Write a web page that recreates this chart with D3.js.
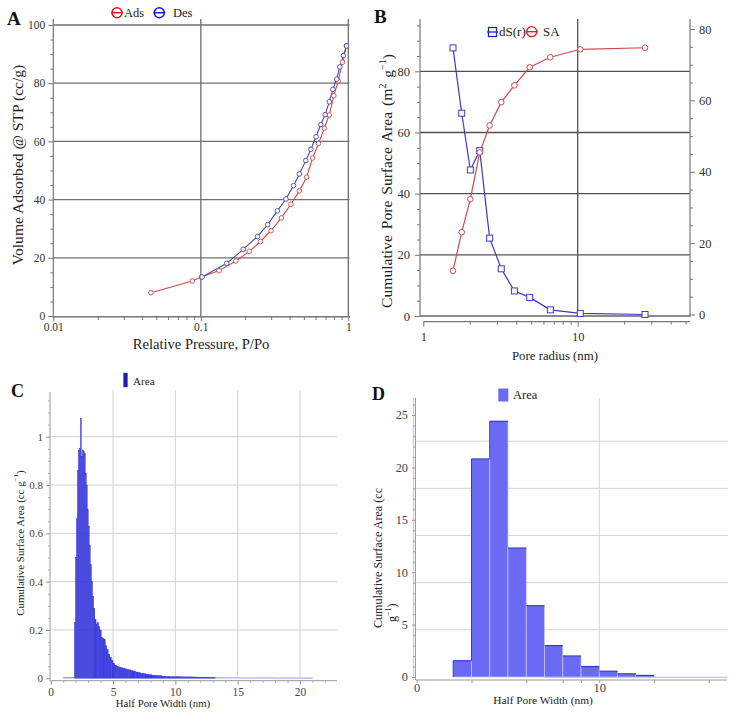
<!DOCTYPE html>
<html><head><meta charset="utf-8">
<script src="https://cdn.jsdelivr.net/npm/d3@7"></script>
<style>body{margin:0;background:#fff}svg{display:block;background:#fff}</style>
</head><body><svg id="c" width="739" height="713"></svg>
<script>
// ---------- Panel A data ----------
const adsP = [0.0459,0.0875,0.101,0.133,0.173,0.213,0.254,0.299,0.352,0.408,0.466,0.522,0.573,0.628,0.688,0.743,0.798,0.855,0.913,0.972];
const adsV = [8.0,12.0,13.4,15.6,18.9,22.2,25.6,29.3,33.7,38.4,43.0,47.7,54.3,59.3,64.5,69.1,75.7,80.8,87.2,92.8];
const desP = [0.972,0.925,0.876,0.834,0.786,0.743,0.697,0.651,0.604,0.558,0.515,0.466,0.425,0.378,0.330,0.284,0.242,0.194,0.150,0.102];
const desV = [92.8,89.5,85.6,81.4,77.9,73.6,69.2,65.8,61.6,57.3,53.4,48.8,44.8,40.2,36.1,31.4,27.3,22.9,18.1,13.4];
const aTicksX = [0.01,0.1,1];
const aMinorX = [0.02,0.03,0.04,0.05,0.06,0.07,0.08,0.09,0.2,0.3,0.4,0.5,0.6,0.7,0.8,0.9];
const aTicksY = [0,20,40,60,80,100];
const aMinorY = [5,10,15,25,30,35,45,50,55,65,70,75,85,90,95];
const aGridY = [20,40,60,80,100];
const aGridX = [0.1,1];

// ---------- Panel B data ----------
const bRadius = [1.557,1.774,2.017,2.32,2.69,3.20,3.89,4.89,6.65,10.4,27.3];
const bSA = [14.8,27.4,38.2,53.5,62.3,69.9,75.4,81.3,84.6,87.2,87.7];   // left axis
const bdS = [74.7,56.4,40.5,45.9,21.4,12.8,6.6,4.8,1.3,0.3,0.0];        // right axis
const bTicksL = [0,20,40,60,80];
const bMinorL = [5,10,15,25,30,35,45,50,55,65,70,75,85,90,95];
const bTicksR = [0,20,40,60,80];
const bMinorR = [5,10,15,25,30,35,45,50,55,65,70,75];
const bTicksX = [1,10];
const bMinorX = [2,3,4,5,6,7,8,9,20,30,40,50];
const bGridY = [20,40,60,80];

// ---------- Panel C data ----------
const cEdges = [1.90,1.98,2.06,2.14,2.22,2.30,2.38,2.46,2.54,2.62,2.70,2.78,2.86,2.94,3.02,3.10,3.18,3.27,3.36,3.45,3.54,3.64,3.74,3.84,3.94,4.05,4.16,4.27,4.38,4.50,4.62,4.74,4.87,5.00,5.14,5.28,5.43,5.58,5.74,5.90,6.07,6.24,6.42,6.60,6.80,7.00,7.20,7.42,7.64,7.88,8.12,8.38,8.64,8.92,9.20,9.50,9.82,10.15,10.5,10.9,11.3,11.7,12.2,12.7,13.2,13.8,14.4,15.0,15.7,16.4,17.1,17.9,18.7,19.6,20.5,21.0];
const cArea = [0.23,0.50,0.66,0.86,0.945,0.95,1.076,0.92,0.945,0.94,0.93,0.85,0.80,0.70,0.63,0.55,0.47,0.40,0.34,0.29,0.245,0.225,0.23,0.215,0.20,0.17,0.165,0.16,0.135,0.12,0.10,0.087,0.075,0.062,0.055,0.05,0.047,0.045,0.042,0.040,0.037,0.035,0.032,0.030,0.026,0.024,0.021,0.019,0.017,0.015,0.013,0.012,0.011,0.009,0.008,0.007,0.007,0.007,0.006,0.006,0.0055,0.005,0.005,0.0045,0.004,0.0035,0.0035,0.003,0.003,0.003,0.003,0.0025,0.0025,0.0025,0.002];
const cTicksX = [0,5,10,15,20];
const cMinorX = [1,2,3,4,6,7,8,9,11,12,13,14,16,17,18,19,21,22];
const cTicksY = [0,0.2,0.4,0.6,0.8,1];
const cMinorY = [0.05,0.1,0.15,0.25,0.3,0.35,0.45,0.5,0.55,0.65,0.7,0.75,0.85,0.9,0.95,1.05,1.1,1.15];
const cGridY = [0.2,0.4,0.6,0.8,1];
const cGridX = [5,10,15,20];

// ---------- Panel D data ----------
const dEdges = [2,3,4,5,6,7,8,9,10,11,12,13];
const dArea = [1.55,20.8,24.4,12.3,6.8,3.0,2.0,1.0,0.55,0.3,0.15];
const dTicksX = [0,10];
const dMinorX = [3,6,8,9,13,16];
const dTicksY = [0,5,10,15,20,25];
const dMinorY = [1,2,3,4,6,7,8,9,11,12,13,14,16,17,18,19,21,22,23,24,26];
const dGridY = [4.5,9,13.5,18,22.5];
const dGridX = [10];

// ---------- helpers ----------
const FONT = '"Liberation Serif", "Times New Roman", serif';
const svg = d3.select('#c');
svg.append('rect').attr('width',739).attr('height',713).attr('fill','#fff');

function styleAxis(g, size, color, tickColor) {
  g.select('.domain').remove();
  g.selectAll('.tick line').attr('stroke', tickColor || '#777').attr('stroke-width', 1);
  g.selectAll('.tick text').attr('font-family', FONT).attr('font-size', size).attr('fill', color || '#333');
  return g;
}
function text(x, y, s, size, opts = {}) {
  const t = svg.append('text').attr('x', x).attr('y', y).attr('font-family', FONT)
    .attr('font-size', size).attr('fill', opts.fill || '#222')
    .attr('text-anchor', opts.anchor || 'middle').attr('dominant-baseline', opts.baseline || 'central');
  if (opts.weight) t.attr('font-weight', opts.weight);
  if (opts.rotate) t.attr('transform', `rotate(-90,${x},${y})`);
  t.text(s);
  return t;
}
function hline(g, x1, x2, y, color, w) {
  g.append('line').attr('x1', x1).attr('x2', x2).attr('y1', y).attr('y2', y).attr('stroke', color).attr('stroke-width', w);
}
function vline(g, x, y1, y2, color, w) {
  g.append('line').attr('x1', x).attr('x2', x).attr('y1', y1).attr('y2', y2).attr('stroke', color).attr('stroke-width', w);
}

// ================= Panel A =================
{
  const x = d3.scaleLog().domain([0.01, 1]).range([53.3, 348.3]);
  const y = d3.scaleLinear().domain([0, 100]).range([316, 25]);
  const g = svg.append('g');
  g.selectAll('.gy').data(aGridY).join('line').attr('x1', 53.3).attr('x2', 349.5)
    .attr('y1', d => y(d)).attr('y2', d => y(d)).attr('stroke', '#6f6f6f').attr('stroke-width', 1.3);
  g.selectAll('.gx').data(aGridX).join('line').attr('x1', d => x(d)).attr('x2', d => x(d))
    .attr('y1', 19).attr('y2', 317).attr('stroke', '#6f6f6f').attr('stroke-width', 1.3);
  vline(g, 53.3, 19, 318, '#777', 1.2);
  hline(g, 53.3, 350, 316.8, '#777', 1.6);
  styleAxis(g.append('g').attr('transform', 'translate(0,317)')
    .call(d3.axisBottom(x).tickValues(aTicksX).tickFormat(d => String(d)).tickSize(4).tickPadding(2)), 11.5);
  styleAxis(g.append('g').attr('transform', 'translate(0,317)')
    .call(d3.axisBottom(x).tickValues(aMinorX).tickFormat('').tickSize(3)), 11.5);
  styleAxis(g.append('g').attr('transform', 'translate(53.3,0)')
    .call(d3.axisLeft(y).tickValues(aTicksY).tickSize(5).tickPadding(3)), 11.5);
  styleAxis(g.append('g').attr('transform', 'translate(53.3,0)')
    .call(d3.axisLeft(y).tickValues(aMinorY).tickFormat('').tickSize(3)), 11.5);

  const ads = adsP.map((p, i) => [p, adsV[i]]);
  const des = desP.map((p, i) => [p, desV[i]]);
  const line = d3.line().x(d => x(d[0])).y(d => y(d[1]));
  g.append('path').attr('d', line(ads)).attr('fill', 'none').attr('stroke', '#cc4a4a').attr('stroke-width', 1.1);
  g.append('path').attr('d', line(des)).attr('fill', 'none').attr('stroke', '#4848b0').attr('stroke-width', 1.1);
  g.selectAll('.ma').data(ads).join('circle').attr('cx', d => x(d[0])).attr('cy', d => y(d[1])).attr('r', 2.3)
    .attr('fill', '#fff').attr('stroke', '#cc4a4a').attr('stroke-width', 0.9);
  g.selectAll('.md').data(des).join('circle').attr('cx', d => x(d[0])).attr('cy', d => y(d[1])).attr('r', 2.3)
    .attr('fill', '#fff').attr('stroke', '#4848b0').attr('stroke-width', 0.9);

  // legend
  const leg = [[117, '#e01818', 'Ads', 124], [159.3, '#1818e0', 'Des', 173]];
  leg.forEach(([cx, c, s, tx]) => {
    g.append('circle').attr('cx', cx).attr('cy', 12.7).attr('r', 5).attr('fill', 'none').attr('stroke', c).attr('stroke-width', 1.5);
    hline(g, cx - 6, cx + 6, 12.7, c, 1.5);
    text(tx, 12.5, s, 12.5, { anchor: 'start' });
  });
  text(7, 18, 'A', 19, { anchor: 'start', weight: 'bold', fill: '#111' });
  text(17, 165, 'Volume Adsorbed @ STP (cc/g)', 15.6, { rotate: true });
  text(201, 344, 'Relative Pressure, P/Po', 14.6);
}

// ================= Panel B =================
{
  const x = d3.scaleLog().domain([1, 53.4]).range([423.3, 690]);
  const yL = d3.scaleLinear().domain([0, 80]).range([316, 71.3]);
  const yR = d3.scaleLinear().domain([0, 80]).range([314.5, 29]);
  const g = svg.append('g');
  g.selectAll('.gy').data(bGridY).join('line').attr('x1', 420).attr('x2', 690)
    .attr('y1', d => yL(d)).attr('y2', d => yL(d)).attr('stroke', '#505050').attr('stroke-width', 1.3);
  hline(g, 420, 690, yL(0), '#8a8a8a', 2.2);
  vline(g, x(10), 19, 316, '#555', 1.3);
  vline(g, 420, 19, 317, '#777', 1.2);
  vline(g, 690, 19, 317, '#777', 1.2);
  hline(g, 423.3, 690, 321.7, '#777', 1.2);
  styleAxis(g.append('g').attr('transform', 'translate(420,0)')
    .call(d3.axisLeft(yL).tickValues(bTicksL).tickSize(5).tickPadding(5)), 12.5);
  styleAxis(g.append('g').attr('transform', 'translate(420,0)')
    .call(d3.axisLeft(yL).tickValues(bMinorL).tickFormat('').tickSize(3)), 12);
  styleAxis(g.append('g').attr('transform', 'translate(690,0)')
    .call(d3.axisRight(yR).tickValues(bTicksR).tickSize(5).tickPadding(4)), 12.5);
  styleAxis(g.append('g').attr('transform', 'translate(690,0)')
    .call(d3.axisRight(yR).tickValues(bMinorR).tickFormat('').tickSize(3)), 12);
  styleAxis(g.append('g').attr('transform', 'translate(0,321.7)')
    .call(d3.axisBottom(x).tickValues(bTicksX).tickFormat(d => String(d)).tickSize(5).tickPadding(5)), 12.5);
  styleAxis(g.append('g').attr('transform', 'translate(0,321.7)')
    .call(d3.axisBottom(x).tickValues(bMinorX).tickFormat('').tickSize(3)), 12);

  const sa = bRadius.map((r, i) => [r, bSA[i]]);
  const ds = bRadius.map((r, i) => [r, bdS[i]]);
  g.append('path').attr('d', d3.line().x(d => x(d[0])).y(d => yR(d[1]))(ds)).attr('fill', 'none').attr('stroke', '#3a3ac4').attr('stroke-width', 1.2);
  g.append('path').attr('d', d3.line().x(d => x(d[0])).y(d => yL(d[1]))(sa)).attr('fill', 'none').attr('stroke', '#cf4a4a').attr('stroke-width', 1.2);
  g.selectAll('.ms').data(ds).join('rect').attr('x', d => x(d[0]) - 3).attr('y', d => yR(d[1]) - 3)
    .attr('width', 6).attr('height', 6).attr('fill', '#fff').attr('stroke', '#3a3ac4').attr('stroke-width', 1);
  g.selectAll('.mc').data(sa).join('circle').attr('cx', d => x(d[0])).attr('cy', d => yL(d[1])).attr('r', 2.8)
    .attr('fill', '#fff').attr('stroke', '#cf4a4a').attr('stroke-width', 1);

  g.append('rect').attr('x', 488.5).attr('y', 27.5).attr('width', 8).attr('height', 9).attr('fill', 'none').attr('stroke', '#2020d8').attr('stroke-width', 1.3);
  hline(g, 487, 498, 32, '#2020d8', 1.3);
  text(499, 31.7, 'dS(r)', 13, { anchor: 'start' });
  g.append('circle').attr('cx', 531.7).attr('cy', 31.7).attr('r', 5).attr('fill', 'none').attr('stroke', '#e01818').attr('stroke-width', 1.3);
  hline(g, 525.7, 537.7, 31.7, '#e01818', 1.3);
  text(543, 31.7, 'SA', 13, { anchor: 'start' });

  text(374, 16, 'B', 19, { anchor: 'start', weight: 'bold', fill: '#111' });
  svg.append('text').attr('transform', 'translate(386.7,181) rotate(-90)').attr('text-anchor', 'middle')
    .attr('dominant-baseline', 'central').attr('font-family', FONT).attr('font-size', 15.6).attr('fill', '#222')
    .attr('word-spacing', 2)
    .html('Cumulative Pore Surface Area (m<tspan font-size="10" dy="-5">2</tspan><tspan dy="5"> g</tspan><tspan font-size="10" dy="-5">−1</tspan><tspan dy="5">)</tspan>');
  text(555, 356, 'Pore radius (nm)', 12.8);
}

// ================= Panel C =================
{
  const x = d3.scaleLinear().domain([0, 20]).range([50.7, 300]);
  const y = d3.scaleLinear().domain([0, 1]).range([678.3, 436.7]);
  const g = svg.append('g');
  g.selectAll('.gy').data(cGridY).join('line').attr('x1', 50).attr('x2', 337)
    .attr('y1', d => y(d)).attr('y2', d => y(d)).attr('stroke', '#d2d2d2').attr('stroke-width', 1);
  g.selectAll('.gx').data(cGridX).join('line').attr('x1', d => x(d)).attr('x2', d => x(d))
    .attr('y1', 390).attr('y2', 678).attr('stroke', '#d2d2d2').attr('stroke-width', 1);
  vline(g, 50, 392, 681, '#999', 1);
  hline(g, 50, 337, 680.7, '#999', 1);
  styleAxis(g.append('g').attr('transform', 'translate(50,0)')
    .call(d3.axisLeft(y).tickValues(cTicksY).tickFormat(d => String(d)).tickSize(4).tickPadding(3)), 11, '#444', '#999');
  styleAxis(g.append('g').attr('transform', 'translate(50,0)')
    .call(d3.axisLeft(y).tickValues(cMinorY).tickFormat('').tickSize(2)), 11, '#444', '#aaa');
  styleAxis(g.append('g').attr('transform', 'translate(0,680.7)')
    .call(d3.axisBottom(x).tickValues(cTicksX).tickSize(4).tickPadding(3)), 11.5, '#444', '#999');
  styleAxis(g.append('g').attr('transform', 'translate(0,680.7)')
    .call(d3.axisBottom(x).tickValues(cMinorX).tickFormat('').tickSize(2)), 11, '#444', '#aaa');

  hline(g, x(1.0), x(cEdges[0]), y(0) - 0.5, '#6a6ae8', 1);
  const bars = cArea.map((v, i) => ({ x0: cEdges[i], x1: cEdges[i + 1], v }));
  g.selectAll('.cb').data(bars).join('rect')
    .attr('x', d => x(d.x0)).attr('width', d => Math.max(0.6, x(d.x1) - x(d.x0)))
    .attr('y', d => y(d.v)).attr('height', d => Math.max(0.8, y(0) - y(d.v)))
    .attr('fill', d => d.x0 >= 13 ? '#a4a4f6' : '#3f3fec')
    .attr('stroke', d => d.x0 >= 13 ? '#b0b0f6' : '#2a2ac4').attr('stroke-width', 0.3);

  g.append('rect').attr('x', 123.5).attr('y', 373).attr('width', 4).attr('height', 14).attr('fill', '#1c1cb0').attr('stroke', '#5a5af0').attr('stroke-width', 0.6);
  text(133, 380.5, 'Area', 11.2, { anchor: 'start' });
  text(11, 391, 'C', 18, { anchor: 'start', weight: 'bold', fill: '#111' });
  svg.append('text').attr('transform', 'translate(20,543) rotate(-90)').attr('text-anchor', 'middle')
    .attr('dominant-baseline', 'central').attr('font-family', FONT).attr('font-size', 10.9).attr('fill', '#222')
    .html('Cumulative Surface Area (cc g<tspan font-size="7" dy="-4">−1</tspan><tspan dy="4">)</tspan>');
  text(163, 703, 'Half Pore Width (nm)', 10.8);
}

// ================= Panel D =================
{
  const x = d3.scaleLinear().domain([0, 10]).range([416.7, 599.3]);
  const y = d3.scaleLinear().domain([0, 25]).range([677, 415]);
  const g = svg.append('g');
  g.selectAll('.gy').data(dGridY).join('line').attr('x1', 415).attr('x2', 728)
    .attr('y1', d => y(d)).attr('y2', d => y(d)).attr('stroke', '#d4d4d4').attr('stroke-width', 1);
  g.selectAll('.gx').data(dGridX).join('line').attr('x1', d => x(d)).attr('x2', d => x(d))
    .attr('y1', 398).attr('y2', 677).attr('stroke', '#d4d4d4').attr('stroke-width', 1);
  vline(g, 413.5, 398, 680, '#c8c8c8', 1);
  vline(g, 415.5, 398, 680, '#999', 1);
  hline(g, 416, 727, 680, '#999', 1);
  styleAxis(g.append('g').attr('transform', 'translate(415,0)')
    .call(d3.axisLeft(y).tickValues(dTicksY).tickSize(3).tickPadding(4)), 12.3, '#444', '#999');
  styleAxis(g.append('g').attr('transform', 'translate(415,0)')
    .call(d3.axisLeft(y).tickValues(dMinorY).tickFormat('').tickSize(2)), 11, '#444', '#aaa');
  styleAxis(g.append('g').attr('transform', 'translate(0,680)')
    .call(d3.axisBottom(x).tickValues(dTicksX).tickSize(3).tickPadding(0)), 12.5, '#444', '#999');
  styleAxis(g.append('g').attr('transform', 'translate(0,680)')
    .call(d3.axisBottom(x).tickValues(dMinorX).tickFormat('').tickSize(3)), 11, '#444', '#999');

  hline(g, x(7), x(17), y(0) + 0.3, '#c4c4f2', 1.2);
  const bars = dArea.map((v, i) => ({ x0: dEdges[i], x1: dEdges[i + 1], v }));
  g.selectAll('.db').data(bars).join('rect')
    .attr('x', d => x(d.x0)).attr('width', d => x(d.x1) - x(d.x0))
    .attr('y', d => y(d.v)).attr('height', d => y(0) - y(d.v))
    .attr('fill', '#6a6af5').attr('stroke', '#c4c4fa').attr('stroke-width', 0.8);
  g.selectAll('.dt').data(bars).join('line')
    .attr('x1', d => x(d.x0)).attr('x2', d => x(d.x1)).attr('y1', d => y(d.v)).attr('y2', d => y(d.v))
    .attr('stroke', '#3535d0').attr('stroke-width', 1.2);
  vline(g, x(dEdges[0]), y(dArea[0]), y(0), '#3535d0', 1);
  vline(g, x(dEdges[1]), y(dArea[1]), y(dArea[0]), '#3535d0', 1);
  vline(g, x(dEdges[2]), y(dArea[2]), y(dArea[1]), '#3535d0', 1);

  g.append('rect').attr('x', 498.3).attr('y', 388.5).attr('width', 10).attr('height', 13).attr('fill', '#6a6af5');
  text(513, 394.5, 'Area', 12.5, { anchor: 'start' });
  text(372, 394, 'D', 18, { anchor: 'start', weight: 'bold', fill: '#111' });
  const yl = svg.append('text').attr('transform', 'translate(378.3,628) rotate(-90)').attr('text-anchor', 'start')
    .attr('dominant-baseline', 'central').attr('font-family', FONT).attr('font-size', 12.1).attr('fill', '#222');
  yl.append('tspan').attr('x', 0).attr('y', 0).text('Cumulative Surface Area (cc');
  yl.append('tspan').attr('x', 6).attr('y', 13.5).html('g<tspan font-size="8" dy="-4">−1</tspan><tspan dy="4">)</tspan>');
  text(543, 700, 'Half Pore Width (nm)', 11.4);
}
</script></body></html>
